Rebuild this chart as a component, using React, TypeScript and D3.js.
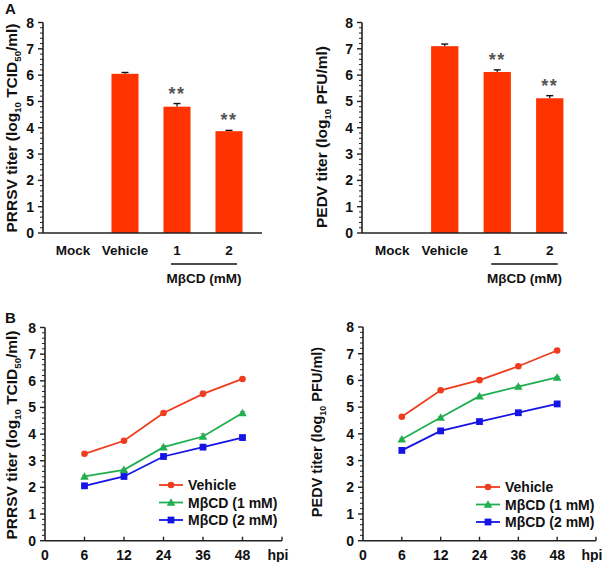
import React from "react";
import * as d3 from "d3";

const barCategories = ["Mock", "Vehicle", "1", "2"];
const prrsvBarValues = [0, 6.05, 4.8, 3.87];
const prrsvBarErrors = [0, 0.05, 0.12, 0.03];
const pedvBarValues = [0, 7.1, 6.12, 5.12];
const pedvBarErrors = [0, 0.08, 0.08, 0.1];
const barStars = ["", "", "**", "**"];

const hpiTicks = ["0", "6", "12", "24", "36", "48", "hpi"];
const hpiPoints = ["6", "12", "24", "36", "48"];
const seriesNames = ["Vehicle", "MβCD (1 mM)", "MβCD (2 mM)"];
const seriesColors = ["#F03C1E", "#1FAF4F", "#1414E6"];
const seriesShapes = ["circle", "triangle", "square"];

const prrsvVehicle = [3.26, 3.75, 4.79, 5.51, 6.07];
const prrsv1mM = [2.41, 2.66, 3.51, 3.91, 4.79];
const prrsv2mM = [2.06, 2.41, 3.16, 3.51, 3.87];
const prrsvErr = [0.04, 0.04, 0.05, 0.1, 0.05];

const pedvVehicle = [4.64, 5.63, 6.01, 6.53, 7.12];
const pedv1mM = [3.8, 4.61, 5.41, 5.77, 6.11];
const pedv2mM = [3.38, 4.11, 4.46, 4.79, 5.12];
const pedvErr = [0.04, 0.04, 0.04, 0.04, 0.04];

const yTicks = [0, 1, 2, 3, 4, 5, 6, 7, 8];
const FONT = "'Liberation Sans', Arial, Helvetica, sans-serif";

function YAxis({ x, y }: { x: number; y: d3.ScaleLinear<number, number> }) {
  const minors = d3.range(0, 8.001, 0.2).filter((v) => Math.abs(v - Math.round(v)) > 0.01);
  return (
    <g>
      <line x1={x} x2={x} y1={y(0)} y2={y(8)} stroke="#222" strokeWidth={1.6} />
      {yTicks.map((t) => (
        <g key={t}>
          <line x1={x - 5} x2={x} y1={y(t)} y2={y(t)} stroke="#222" strokeWidth={1.4} />
          <text x={x - 9} y={y(t) + 5} textAnchor="end" fontSize={14} fontWeight="bold" fill="#111">
            {t}
          </text>
        </g>
      ))}
      {minors.map((t, i) => (
        <line key={i} x1={x - 3} x2={x} y1={y(t)} y2={y(t)} stroke="#222" strokeWidth={1} />
      ))}
    </g>
  );
}

function YTitle({ x, cy, size, main, sub, rest, sub2, tail }: any) {
  const fs = size || 15;
  return (
    <text
      transform={`translate(${x},${cy}) rotate(-90)`}
      textAnchor="middle"
      fontSize={fs}
      fontWeight="bold"
      fill="#111"
    >
      {main}
      <tspan fontSize={fs * 0.62} dy={4}>{sub}</tspan>
      <tspan dy={-4}>{rest}</tspan>
      {sub2 ? <tspan fontSize={fs * 0.62} dy={4}>{sub2}</tspan> : null}
      <tspan dy={sub2 ? -4 : 0}>{tail}</tspan>
    </text>
  );
}

function BarPanel({ x0, x1, axisEnd, y0, y8, values, errors, title }: any) {
  const y = d3.scaleLinear().domain([0, 8]).range([y0, y8]);
  const xb = d3.scaleBand<string>().domain(barCategories).range([x0, x1]).padding(0);
  const axisX = x0 - 4;
  const bw = xb.bandwidth() * 0.52;
  const c1 = (xb("1") as number) + xb.bandwidth() / 2;
  const c2 = (xb("2") as number) + xb.bandwidth() / 2;
  return (
    <g>
      {barCategories.map((c, i) => {
        const cx = (xb(c) as number) + xb.bandwidth() / 2;
        const v = values[i];
        const e = errors[i];
        if (v <= 0) return null;
        return (
          <g key={c}>
            <line x1={cx} x2={cx} y1={y(v)} y2={y(v + e)} stroke="#111" strokeWidth={1.2} />
            <line x1={cx - 3.5} x2={cx + 3.5} y1={y(v + e)} y2={y(v + e)} stroke="#111" strokeWidth={1.4} />
            <rect x={cx - bw / 2} y={y(v)} width={bw} height={y(0) - y(v)} fill="#FF3300" />
            {barStars[i] ? (
              <text x={cx} y={y(v + e) - 4} textAnchor="middle" fontSize={18} fontWeight="bold" fill="#555" letterSpacing={1.5}>
                {barStars[i]}
              </text>
            ) : null}
          </g>
        );
      })}
      <YAxis x={axisX} y={y} />
      <line x1={axisX} x2={axisEnd} y1={y(0)} y2={y(0)} stroke="#222" strokeWidth={1.6} />
      {barCategories.map((c) => (
        <text
          key={c}
          x={(xb(c) as number) + xb.bandwidth() / 2}
          y={y(0) + 22}
          textAnchor="middle"
          fontSize={13.5}
          fontWeight="bold"
          fill="#111"
        >
          {c}
        </text>
      ))}
      <line x1={c1 - 6} x2={c2 + 8} y1={y(0) + 31} y2={y(0) + 31} stroke="#111" strokeWidth={1.3} />
      <text x={(c1 + c2) / 2 + 1} y={y(0) + 50} textAnchor="middle" fontSize={13.5} fontWeight="bold" fill="#111">
        MβCD (mM)
      </text>
      {title}
    </g>
  );
}

function Marker({ shape, x, y, color }: any) {
  if (shape === "circle") return <circle cx={x} cy={y} r={3.3} fill={color} />;
  if (shape === "square") return <rect x={x - 3.4} y={y - 3.4} width={6.8} height={6.8} fill={color} />;
  const s = 4.3;
  return <path d={`M${x},${y - s}L${x + s},${y + s * 0.75}L${x - s},${y + s * 0.75}Z`} fill={color} />;
}

function LinePanel({ x0, x1, y0, y8, series, errs, legendX, legendY, title }: any) {
  const y = d3.scaleLinear().domain([0, 8]).range([y0, y8]);
  const x = d3.scalePoint<string>().domain(hpiTicks).range([x0, x1]);
  const line = d3
    .line<number>()
    .x((_, i) => x(hpiPoints[i]) as number)
    .y((d) => y(d));
  return (
    <g>
      {series.map((s: number[], si: number) => (
        <g key={si}>
          <path d={line(s) as string} fill="none" stroke={seriesColors[si]} strokeWidth={1.8} />
          {s.map((v, i) => {
            const cx = x(hpiPoints[i]) as number;
            return (
              <g key={i}>
                <line x1={cx} x2={cx} y1={y(v)} y2={y(v + errs[i])} stroke="#888" strokeWidth={1} />
                <line x1={cx - 2.5} x2={cx + 2.5} y1={y(v + errs[i])} y2={y(v + errs[i])} stroke="#888" strokeWidth={1} />
                <Marker shape={seriesShapes[si]} x={cx} y={y(v)} color={seriesColors[si]} />
              </g>
            );
          })}
        </g>
      ))}
      <YAxis x={x0} y={y} />
      <line x1={x0} x2={x1} y1={y(0)} y2={y(0)} stroke="#222" strokeWidth={1.6} />
      {hpiTicks.map((t) => (
        <g key={t}>
          {t !== "0" ? (
            <line x1={x(t)} x2={x(t)} y1={y(0)} y2={y(0) - 4} stroke="#222" strokeWidth={1.4} />
          ) : null}
          <text
            x={(x(t) as number) + (t === "hpi" ? -4 : 0)}
            y={y(0) + 19}
            textAnchor="middle"
            fontSize={14}
            fontWeight="bold"
            fill="#111"
          >
            {t}
          </text>
        </g>
      ))}
      {seriesNames.map((n, i) => {
        const ly = legendY + i * 17.5;
        return (
          <g key={n}>
            <line x1={legendX} x2={legendX + 24} y1={ly} y2={ly} stroke={seriesColors[i]} strokeWidth={1.8} />
            <Marker shape={seriesShapes[i]} x={legendX + 12} y={ly} color={seriesColors[i]} />
            <text x={legendX + 29} y={ly + 5} fontSize={14} fontWeight="bold" fill="#111">
              {n}
            </text>
          </g>
        );
      })}
      {title}
    </g>
  );
}

export default function App() {
  return (
    <svg
      width={608}
      height={562}
      style={{ position: "absolute", left: 0, top: 0, background: "#fff" }}
      fontFamily={FONT}
    >
      <rect width={608} height={562} fill="#fff" />
      <text x={5} y={14} fontSize={15} fontWeight="bold" fill="#111">A</text>
      <text x={5} y={323} fontSize={15} fontWeight="bold" fill="#111">B</text>

      <BarPanel
        x0={47}
        x1={255}
        axisEnd={262}
        y0={233}
        y8={22.5}
        values={prrsvBarValues}
        errors={prrsvBarErrors}
        title={<YTitle x={17} cy={128} size={15.5} main="PRRSV titer (log" sub="10" rest=" TCID" sub2="50" tail="/ml)" />}
      />
      <BarPanel
        x0={366}
        x1={576}
        axisEnd={567}
        y0={233}
        y8={22.5}
        values={pedvBarValues}
        errors={pedvBarErrors}
        title={<YTitle x={327} cy={137} size={15.5} main="PEDV titer (log" sub="10" rest=" PFU/ml)" tail="" />}
      />
      <LinePanel
        x0={45}
        x1={282}
        y0={540.7}
        y8={327.5}
        series={[prrsvVehicle, prrsv1mM, prrsv2mM]}
        errs={prrsvErr}
        legendX={159}
        legendY={485}
        title={<YTitle x={17} cy={435} size={15.5} main="PRRSV titer (log" sub="10" rest=" TCID" sub2="50" tail="/ml)" />}
      />
      <LinePanel
        x0={363}
        x1={596}
        y0={540.7}
        y8={327}
        series={[pedvVehicle, pedv1mM, pedv2mM]}
        errs={pedvErr}
        legendX={476}
        legendY={487}
        title={<YTitle x={322} cy={432} size={14.5} main="PEDV titer (log" sub="10" rest=" PFU/ml)" tail="" />}
      />
    </svg>
  );
}
